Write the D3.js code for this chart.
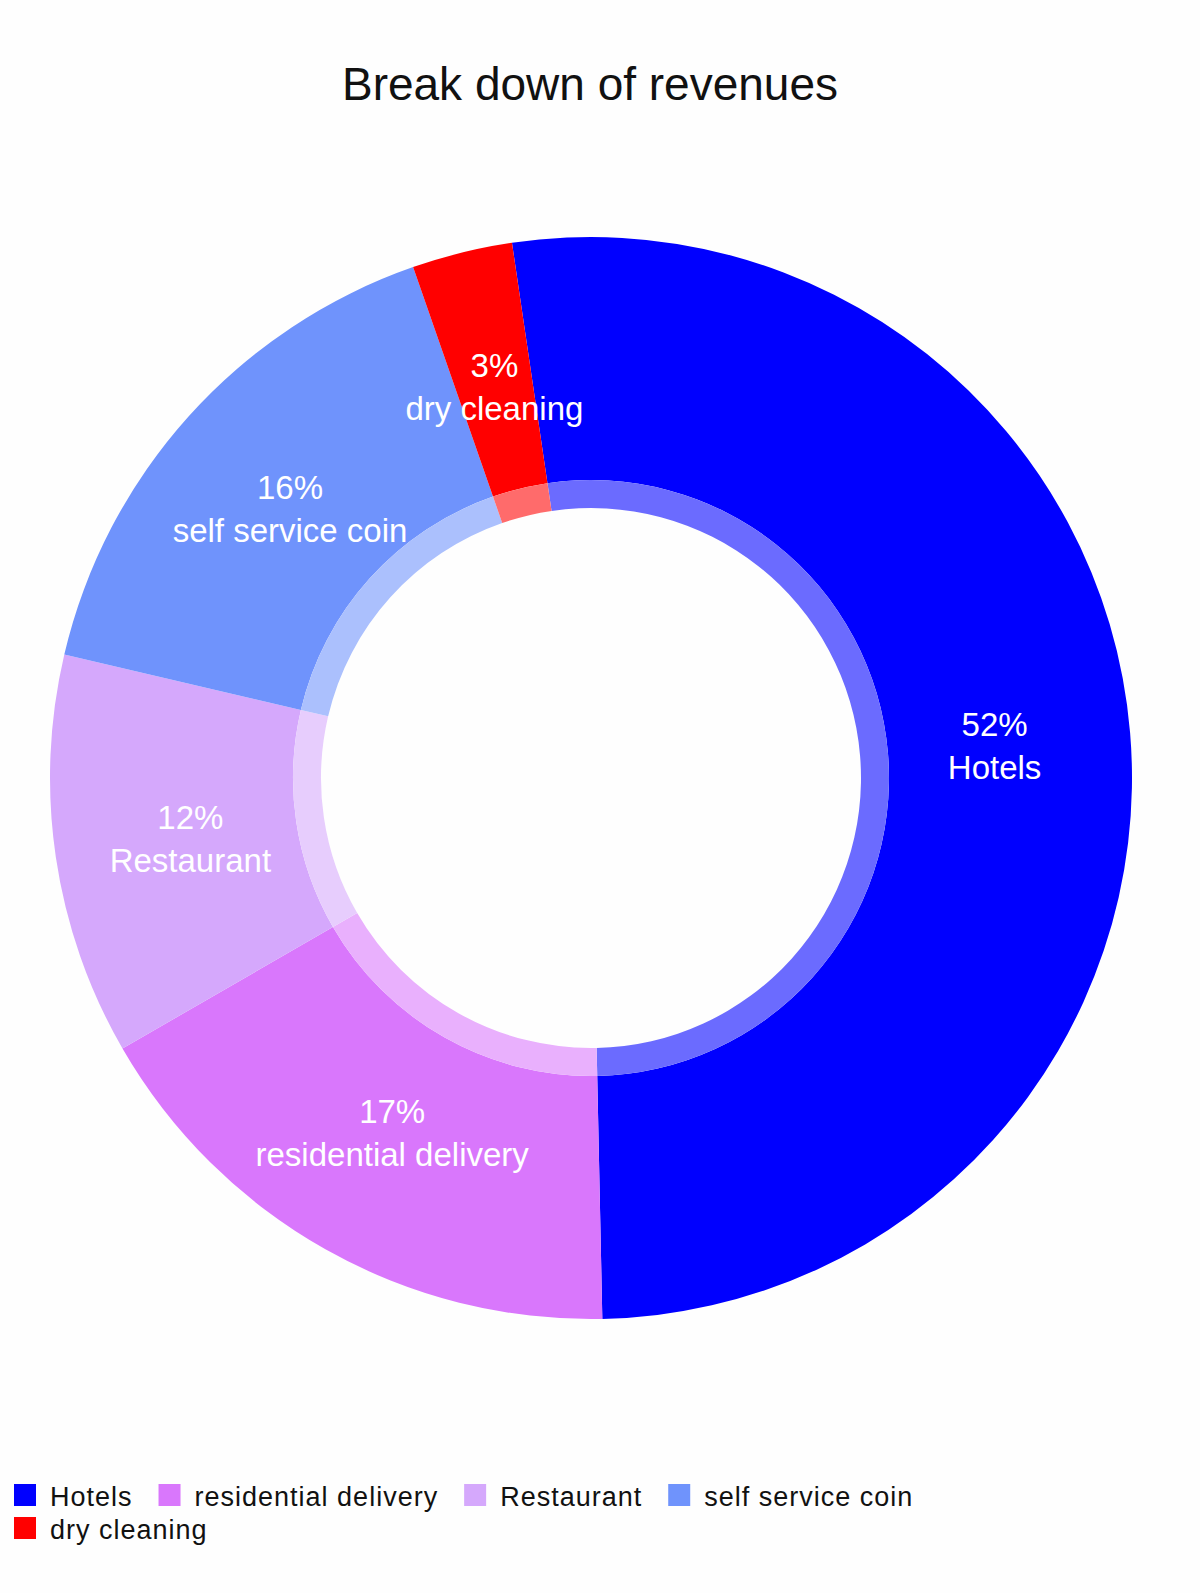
<!DOCTYPE html>
<html><head><meta charset="utf-8">
<script src="https://cdn.jsdelivr.net/npm/d3@7"></script>
<style>body{margin:0;background:#fff}svg{display:block}</style>
</head><body>
<script>
const categories = ["Hotels","residential delivery","Restaurant","self service coin","dry cleaning"];
const values = [52,17,12,16,3];
const colors = ["#0000ff","#d977fc","#d5a8fc","#6f93fc","#ff0000"];
const title = "Break down of revenues";

const W=1200,H=1593,cx=591,cy=778,R=541,rInner=298,rHole=270;
const svg=d3.select("body").append("svg").attr("width",W).attr("height",H);
svg.append("rect").attr("width",W).attr("height",H).attr("fill","#fefefe");
svg.append("text").attr("x",590).attr("y",100).attr("text-anchor","middle")
  .attr("font-family","Liberation Sans, Arial, sans-serif").attr("font-size",46).attr("fill","#111").text(title);

const data=categories.map((c,i)=>({c,v:values[i],col:colors[i]}));
const start=-8.4*Math.PI/180;
const pie=d3.pie().value(d=>d.v).sort(null).startAngle(start).endAngle(start+2*Math.PI);
const arcs=pie(data);
const g=svg.append("g").attr("transform",`translate(${cx},${cy})`);
g.selectAll("path.o").data(arcs).join("path").attr("d",d3.arc().innerRadius(rInner).outerRadius(R)).attr("fill",d=>d.data.col);
g.selectAll("path.i").data(arcs).join("path").attr("d",d3.arc().innerRadius(rHole).outerRadius(rInner))
  .attr("fill",d=>d3.interpolateRgb(d.data.col,"#fff")(0.42));
const lab=d3.arc().innerRadius(405).outerRadius(405);
const t=g.selectAll("text.l").data(arcs).join("text").attr("text-anchor","middle")
  .attr("font-family","Liberation Sans, Arial, sans-serif").attr("font-size",33).attr("fill","#fff")
  .attr("transform",d=>`translate(${lab.centroid(d)})`);
t.append("tspan").attr("x",0).attr("y",-8).text(d=>d.data.v+"%");
t.append("tspan").attr("x",0).attr("y",35).text(d=>d.data.c);

// legend
const lg=svg.append("g");
let x=14,y=1505;
data.forEach(d=>{
  const it=lg.append("g");
  const tx=it.append("text").attr("font-family","Liberation Sans, Arial, sans-serif").attr("font-size",27)
    .attr("letter-spacing",1).attr("fill","#111").text(d.c);
  const w=tx.node().getComputedTextLength()+36;
  if(x+w>940){x=14;y+=33;}
  it.append("rect").attr("x",x).attr("y",y-21).attr("width",22).attr("height",22).attr("fill",d.col);
  tx.attr("x",x+36).attr("y",y+1);
  x+=w+26;
});
</script>
</body></html>
